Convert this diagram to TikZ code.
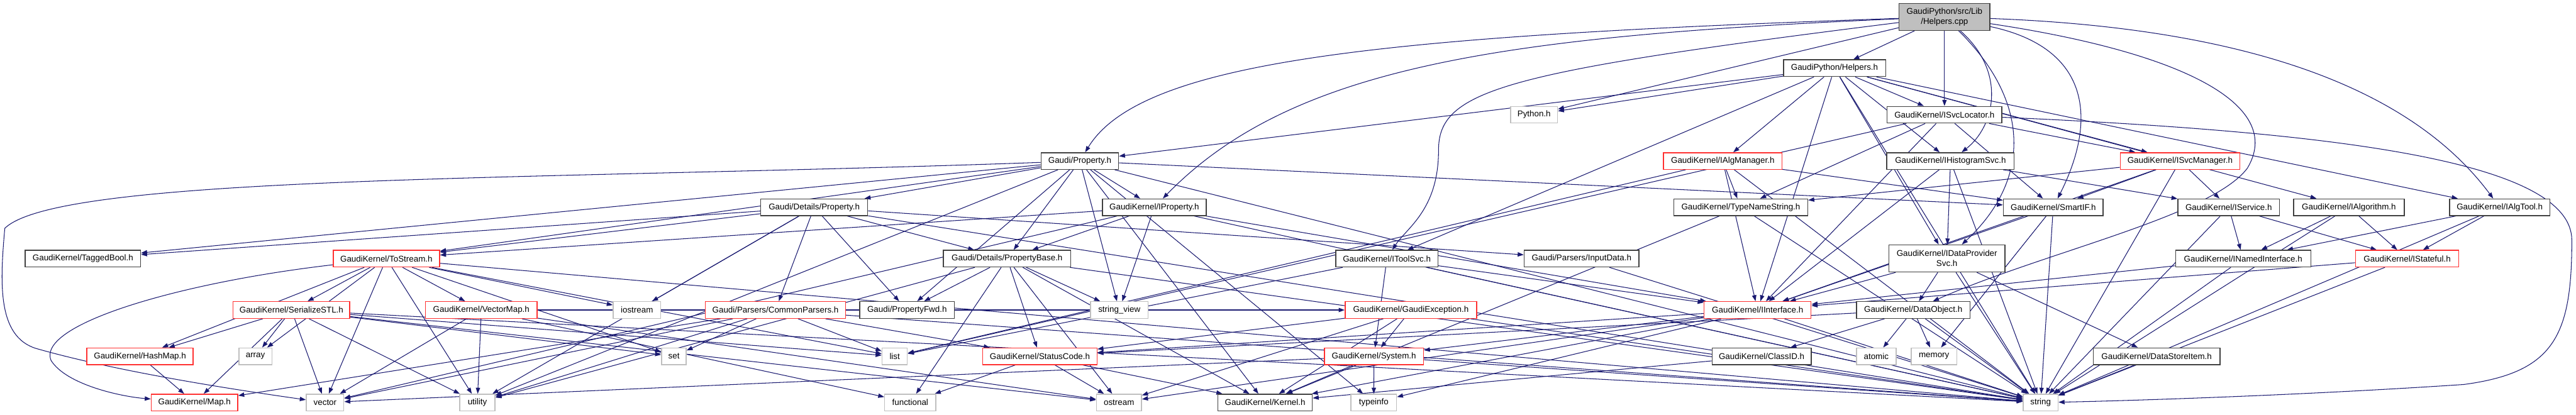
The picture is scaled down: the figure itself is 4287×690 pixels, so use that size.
\documentclass[tikz,border=0pt]{standalone}
\usepackage{fontspec}
\setmainfont{Liberation Sans}
\usetikzlibrary{arrows.meta}
\definecolor{edgeblue}{HTML}{191970}
\definecolor{extgrey}{HTML}{BFBFBF}
\definecolor{incred}{HTML}{FF3030}
\pgfdeclarelayer{edges}
\pgfsetlayers{edges,main}
\tikzset{
  hdr/.style={draw=black!75,fill=white,line width=0.75pt,inner sep=0pt,minimum height=13.85pt,
              font=\fontsize{7}{8.3}\selectfont,align=center},
  redhdr/.style={hdr,draw=incred},
  sys/.style={hdr,draw=extgrey},
  root/.style={hdr,fill=extgrey,minimum height=22.5pt},
  bw/.style={minimum width=#1*0.5pt},
  dep/.style={draw=edgeblue,line width=0.55pt,-{Triangle[length=5pt,width=3.6pt]}},
}

\begin{document}
\begin{tikzpicture}[x=0.5pt,y=-0.5pt]
\useasboundingbox (0,0) rectangle (4287,690);
% rows, top to bottom
\node[root,bw=151] (cpp) at (3236,28) {GaudiPython/src/Lib\\/Helpers.cpp};
\node[hdr,bw=170] (hh) at (3053,113.5) {GaudiPython/Helpers.h};
\node[sys,bw=78] (py) at (2553,191) {Python.h};
\node[hdr,bw=191] (svcloc) at (3236,191) {GaudiKernel/ISvcLocator.h};
\node[hdr,bw=129] (prop) at (1797,268) {Gaudi/Property.h};
\node[redhdr,bw=197] (algmgr) at (2867,268) {GaudiKernel/IAlgManager.h};
\node[hdr,bw=212] (histsvc) at (3246,268) {GaudiKernel/IHistogramSvc.h};
\node[redhdr,bw=199] (svcmgr) at (3628,268) {GaudiKernel/ISvcManager.h};
\node[hdr,bw=178] (dprop) at (1355,345) {Gaudi/Details/Property.h};
\node[hdr,bw=173] (iprop) at (1921,345) {GaudiKernel/IProperty.h};
\node[hdr,bw=223] (tns) at (2897,345) {GaudiKernel/TypeNameString.h};
\node[hdr,bw=166] (smartif) at (3417,345) {GaudiKernel/SmartIF.h};
\node[hdr,bw=169] (isvc) at (3709,345) {GaudiKernel/IService.h};
\node[hdr,bw=184] (ialg) at (3909,345) {GaudiKernel/IAlgorithm.h};
\node[hdr,bw=167] (ialgtool) at (4160,345) {GaudiKernel/IAlgTool.h};
\node[hdr,bw=192] (tagged) at (138,430.5) {GaudiKernel/TaggedBool.h};
\node[redhdr,bw=177] (tostream) at (643,430.5) {GaudiKernel/ToStream.h};
\node[hdr,bw=212] (pbase) at (1676,430.5) {Gaudi/Details/PropertyBase.h};
\node[hdr,bw=170] (toolsvc) at (2308,430.5) {GaudiKernel/IToolSvc.h};
\node[hdr,bw=191] (inputdata) at (2632,430.5) {Gaudi/Parsers/InputData.h};
\node[hdr,bw=193,minimum height=22.5pt] (dps) at (3240,430.2) {GaudiKernel/IDataProvider\\Svc.h};
\node[hdr,bw=225] (nameditf) at (3733,430.5) {GaudiKernel/INamedInterface.h};
\node[redhdr,bw=172] (stateful) at (4006,430.5) {GaudiKernel/IStateful.h};
\node[redhdr,bw=194] (serstl) at (485,516) {GaudiKernel/SerializeSTL.h};
\node[redhdr,bw=186] (vecmap) at (801,516) {GaudiKernel/VectorMap.h};
\node[sys,bw=79] (iostream) at (1060,516) {iostream};
\node[redhdr,bw=233] (cparsers) at (1290.5,516) {Gaudi/Parsers/CommonParsers.h};
\node[hdr,bw=157.5] (pfwd) at (1509.5,516) {Gaudi/PropertyFwd.h};
\node[sys,bw=96] (strview) at (1862.7,516) {string\_view};
\node[redhdr,bw=219] (gexc) at (2348,516) {GaudiKernel/GaudiException.h};
\node[redhdr,bw=178] (iitf) at (2925,516) {GaudiKernel/IInterface.h};
\node[hdr,bw=189] (dobj) at (3184,516) {GaudiKernel/DataObject.h};
\node[redhdr,bw=177] (hashmap) at (233,593) {GaudiKernel/HashMap.h};
\node[sys,bw=55] (array) at (425,593) {array};
\node[sys,bw=41] (set) at (1121.5,593) {set};
\node[sys,bw=42] (list) at (1489,593) {list};
\node[redhdr,bw=190] (status) at (1730.6,593) {GaudiKernel/StatusCode.h};
\node[redhdr,bw=165] (system) at (2286.5,593) {GaudiKernel/System.h};
\node[hdr,bw=165] (classid) at (2931.7,593) {GaudiKernel/ClassID.h};
\node[sys,bw=66] (atomic) at (3122.4,593) {atomic};
\node[sys,bw=76] (memory) at (3218.6,593) {memory};
\node[hdr,bw=211] (dsitem) at (3589,593) {GaudiKernel/DataStoreItem.h};
\node[redhdr,bw=144] (map) at (323.7,670) {GaudiKernel/Map.h};
\node[sys,bw=62.5] (vector) at (541,670) {vector};
\node[sys,bw=59] (utility) at (794.4,670) {utility};
\node[sys,bw=85] (functional) at (1514.8,670) {functional};
\node[sys,bw=75] (ostream) at (1862.2,670) {ostream};
\node[hdr,bw=157] (kernel) at (2105.4,670) {GaudiKernel/Kernel.h};
\node[sys,bw=76] (typeinfo) at (2286.2,670) {typeinfo};
\node[sys,bw=58] (string) at (3396,670) {string};

\begin{pgfonlayer}{edges}
\foreach \s/\t in {cpp/py,cpp/hh,cpp/svcloc,
  hh/py,hh/prop,hh/toolsvc,hh/algmgr,hh/svcloc,hh/histsvc,hh/ialg,hh/ialgtool,hh/svcmgr,hh/dps,hh/iitf,hh/string,
  svcloc/tns,svcloc/iitf,svcloc/smartif,svcloc/svcmgr,svcloc/list,
  algmgr/tns,algmgr/smartif,algmgr/list,algmgr/iitf,algmgr/string,
  histsvc/dps,histsvc/isvc,histsvc/string,histsvc/iitf,
  svcmgr/tns,svcmgr/smartif,svcmgr/isvc,svcmgr/iitf,svcmgr/string,
  prop/dprop,prop/pbase,prop/pfwd,prop/iprop,prop/tagged,prop/tostream,prop/smartif,prop/strview,
  prop/kernel,prop/utility,prop/string,prop/typeinfo,
  dprop/tostream,dprop/pbase,dprop/pfwd,dprop/cparsers,dprop/inputdata,dprop/tagged,dprop/iostream,
  dprop/string,dprop/utility,
  iprop/pbase,iprop/strview,iprop/tostream,iprop/iitf,iprop/string,iprop/vector,
  tns/string,tns/kernel,smartif/iitf,smartif/memory,smartif/string,
  isvc/nameditf,isvc/stateful,isvc/string,ialg/nameditf,ialg/stateful,ialg/string,
  ialgtool/nameditf,ialgtool/stateful,ialgtool/string,
  tostream/serstl,tostream/vecmap,tostream/hashmap,tostream/array,tostream/vector,tostream/set,
  tostream/list,tostream/utility,tostream/iostream,tostream/string,
  pbase/pfwd,pbase/strview,pbase/status,pbase/functional,pbase/ostream,pbase/kernel,pbase/string,pbase/utility,
  toolsvc/iitf,toolsvc/system,toolsvc/list,toolsvc/string,inputdata/string,
  dps/dobj,dps/iitf,dps/dsitem,dps/string,nameditf/iitf,nameditf/string,stateful/iitf,stateful/string,
  serstl/hashmap,serstl/array,serstl/map,serstl/vector,serstl/utility,serstl/list,serstl/set,
  serstl/ostream,serstl/string,
  vecmap/utility,vecmap/vector,vecmap/functional,vecmap/ostream,vecmap/gexc,
  cparsers/set,cparsers/list,cparsers/map,cparsers/vector,cparsers/utility,cparsers/string,cparsers/status,
  gexc/status,gexc/system,gexc/kernel,gexc/string,gexc/ostream,
  iitf/status,iitf/system,iitf/kernel,iitf/string,iitf/ostream,iitf/typeinfo,
  dobj/classid,dobj/atomic,dobj/memory,dobj/string,dobj/status,hashmap/map,
  status/functional,status/ostream,status/kernel,
  system/kernel,system/typeinfo,system/string,system/vector,classid/kernel,dsitem/string}
  \draw[dep] (\s) -- (\t);
% the longer, bent includes
\draw[dep] (cpp) .. controls (2300,60) and (1900,100) .. (prop);
\draw[dep] (cpp) .. controls (2500,60) and (2150,110) .. (iprop);
\draw[dep] (cpp) .. controls (2500,120) and (2394,150) .. (2394,250) .. controls (2394,350) and (2340,380) .. (toolsvc);
\draw[dep] (cpp) .. controls (3340,120) and (3320,210) .. (histsvc);
\draw[dep] (cpp) .. controls (3480,80) and (3490,200) .. (smartif);
\draw[dep] (cpp) .. controls (3380,170) and (3380,300) .. (dps);
\draw[dep] (cpp) .. controls (3700,45) and (4000,130) .. (ialgtool);
\draw[dep] (cpp) .. controls (3650,90) and (3800,180) .. (3740,280) .. controls (3680,360) and (3400,420) .. (dobj);
\draw[dep] (svcloc) .. controls (3900,220) and (4280,270) .. (4280,400) .. controls (4280,560) and (4250,620) .. (4100,640) .. controls (3800,660) and (3500,668) .. (string);
\draw[dep] (prop) .. controls (900,300) and (100,290) .. (8,380) .. controls (0,470) and (-5,560) .. (60,580) .. controls (200,620) and (400,650) .. (vector);
\draw[dep] (tostream) .. controls (300,470) and (60,540) .. (85,600) .. controls (110,640) and (200,660) .. (map);
\end{pgfonlayer}
\end{tikzpicture}
\end{document}
